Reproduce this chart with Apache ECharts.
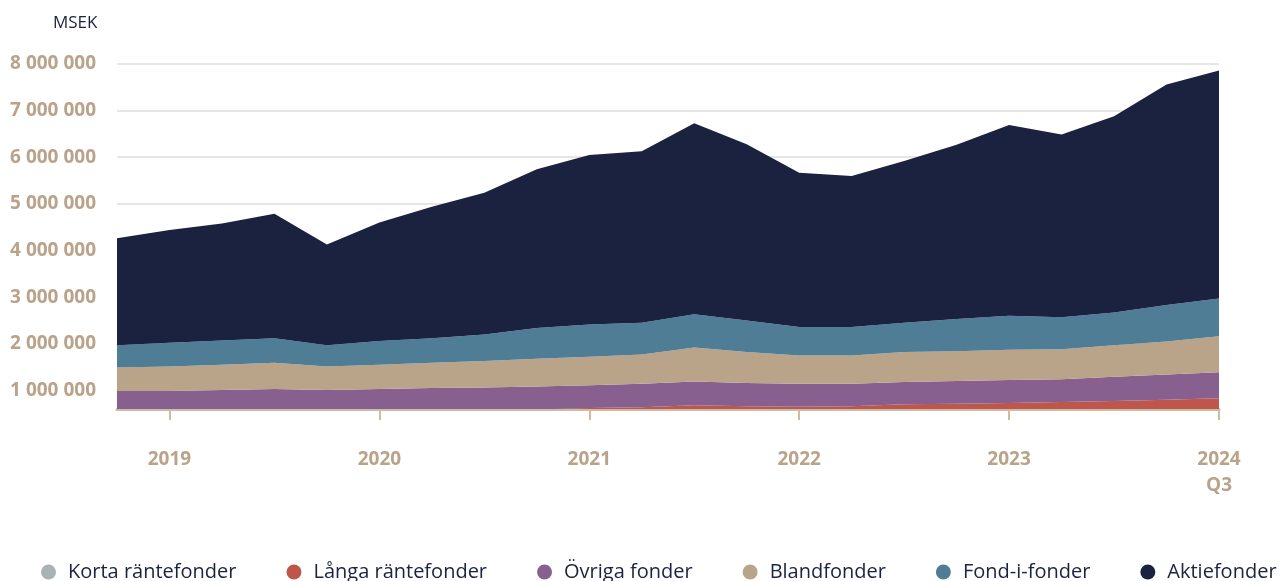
<!DOCTYPE html>
<html>
<head>
<meta charset="utf-8">
<script src="https://cdn.jsdelivr.net/npm/echarts@6/dist/echarts.min.js"></script>
<style>
    html, body { margin: 0; padding: 0; background: #fff; }
    #fond_area { width: 1284px; height: 581px; }
</style>
</head>
<body>
<div id="fond_area"></div>
<script>
// kvartal, 2019 Q2 - 2024 Q3
var quarters = ['2019 Q2', '2019 Q3', '2019 Q4', '2020 Q1', '2020 Q2', '2020 Q3', '2020 Q4', '2021 Q1',
    '2021 Q2', '2021 Q3', '2021 Q4', '2022 Q1', '2022 Q2', '2022 Q3', '2022 Q4', '2023 Q1',
    '2023 Q2', '2023 Q3', '2023 Q4', '2024 Q1', '2024 Q2', '2024 Q3'];

// MSEK per fondtyp
var korta = [300000, 290000, 300000, 310000, 300000, 310000, 310000, 310000, 310000, 320000, 320000,
    330000, 330000, 330000, 320000, 330000, 330000, 340000, 350000, 350000, 360000, 370000];
var langa = [250000, 260000, 260000, 260000, 240000, 250000, 260000, 270000, 280000, 300000, 320000,
    350000, 330000, 320000, 340000, 370000, 380000, 390000, 400000, 420000, 440000, 460000];
var ovriga = [435000, 435000, 450000, 460000, 470000, 470000, 480000, 480000, 490000, 490000, 500000,
    510000, 500000, 490000, 480000, 480000, 490000, 490000, 490000, 520000, 540000, 560000];
var bland = [505000, 525000, 540000, 560000, 500000, 520000, 540000, 570000, 600000, 610000, 630000,
    730000, 660000, 610000, 610000, 640000, 640000, 650000, 640000, 680000, 710000, 770000];
var fondIFonder = [480000, 510000, 520000, 530000, 460000, 510000, 530000, 570000, 660000, 690000, 680000,
    710000, 680000, 610000, 610000, 630000, 690000, 730000, 690000, 700000, 780000, 810000];
var aktie = [2290000, 2420000, 2510000, 2670000, 2160000, 2540000, 2820000, 3040000, 3400000, 3640000, 3680000,
    4100000, 3780000, 3310000, 3240000, 3470000, 3740000, 4090000, 3920000, 4210000, 4730000, 4890000];

var seriesNames = ['Korta räntefonder', 'Långa räntefonder', 'Övriga fonder', 'Blandfonder', 'Fond-i-fonder', 'Aktiefonder'];
var seriesData = [korta, langa, ovriga, bland, fondIFonder, aktie];
var colors = ['#a8b4b3', '#bf564b', '#87608f', '#b9a389', '#4f7d95', '#1a2240'];

var tan = '#b9a38a';
var navy = '#1b2340';

function yearLabel(index) {
    return index % 4 === 1;
}

var chart = echarts.init(document.getElementById('fond_area'));

var series = seriesNames.map(function (name, i) {
    return {
        name: name,
        type: 'line',
        stack: 'total',
        data: seriesData[i],
        showSymbol: false,
        symbol: 'none',
        lineStyle: { width: 0 },
        areaStyle: { color: colors[i], opacity: 1 },
        itemStyle: { color: colors[i] },
        emphasis: { disabled: true }
    };
});

var option = {
    backgroundColor: '#fff',
    animation: false,
    title: {
        text: 'MSEK',
        left: 48,
        top: 10,
        textStyle: {
            color: navy,
            fontSize: 17,
            fontWeight: 'normal',
            fontFamily: 'Open Sans'
        }
    },
    grid: {
        left: 117,
        right: 65,
        top: 64,
        bottom: 172,
        containLabel: false
    },
    legend: {
        left: 36,
        top: 557,
        icon: 'circle',
        itemWidth: 15,
        itemHeight: 15,
        itemGap: 50,
        data: seriesNames,
        textStyle: {
            color: navy,
            fontSize: 20,
            fontFamily: 'Open Sans',
            padding: [0, 0, 0, 7]
        }
    },
    xAxis: {
        type: 'category',
        boundaryGap: false,
        data: quarters,
        axisLine: {
            lineStyle: { color: '#cdbba6', width: 3 }
        },
        axisTick: {
            interval: function (index) { return yearLabel(index); },
            length: 11,
            lineStyle: { color: '#cdbba6', width: 2 }
        },
        axisLabel: {
            interval: function (index) { return yearLabel(index); },
            margin: 38,
            color: tan,
            fontSize: 19,
            fontWeight: 'bold',
            fontFamily: 'Open Sans',
            lineHeight: 26,
            formatter: function (value, index) {
                var parts = value.split(' ');
                if (index === quarters.length - 1) {
                    return parts[0] + '\n' + parts[1];
                }
                return parts[0];
            }
        },
        splitLine: { show: false }
    },
    yAxis: {
        type: 'value',
        min: 600000,
        max: 8000000,
        interval: 200000,
        axisLine: { show: false },
        axisTick: { show: false },
        axisLabel: {
            margin: 21,
            color: tan,
            fontSize: 19,
            fontWeight: 'bold',
            fontFamily: 'Open Sans',
            formatter: function (v) {
                if (v % 1000000 !== 0) return '';
                return String(v).replace(/\B(?=(\d{3})+(?!\d))/g, ' ');
            }
        },
        splitLine: {
            show: true,
            lineStyle: {
                // bara linjer vid hela miljoner (600k, 800k, 1M, ...)
                color: ['transparent', 'transparent', '#dedede', 'transparent', 'transparent'],
                width: 1.5
            }
        }
    },
    tooltip: { show: false },
    series: series
};

chart.setOption(option, true);
</script>
</body>
</html>
